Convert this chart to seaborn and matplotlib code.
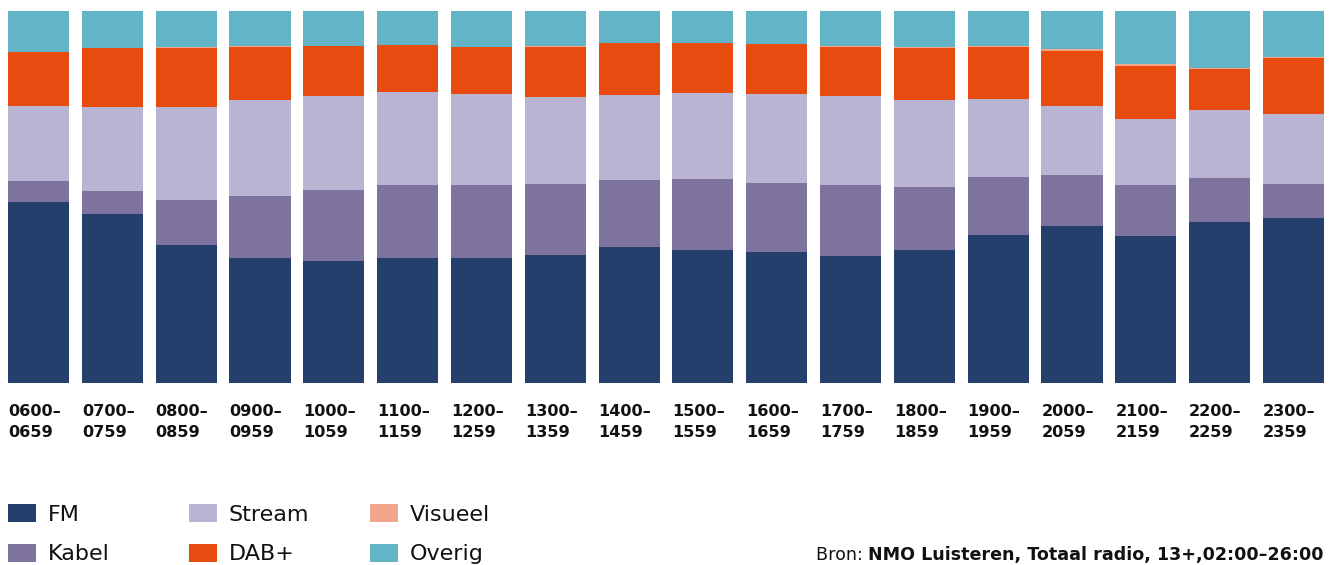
import numpy as np
import pandas as pd
import seaborn as sns
import matplotlib.pyplot as plt
from matplotlib.patches import Patch

# tijdvakken (x-as)
slots = ["0600–\n0659", "0700–\n0759", "0800–\n0859", "0900–\n0959", "1000–\n1059",
         "1100–\n1159", "1200–\n1259", "1300–\n1359", "1400–\n1459", "1500–\n1559",
         "1600–\n1659", "1700–\n1759", "1800–\n1859", "1900–\n1959", "2000–\n2059",
         "2100–\n2159", "2200–\n2259", "2300–\n2359"]

# aandeel per platform (%)
fm      = [48.7, 45.4, 37.1, 33.6, 32.8, 33.6, 33.6, 34.4, 36.6, 35.8, 35.2, 34.1, 35.8, 39.8, 42.2, 39.5, 43.3, 44.4]
kabel   = [5.6, 6.2, 12.1, 16.7, 19.1, 19.6, 19.6, 19.1, 18.0, 19.1, 18.5, 19.1, 16.9, 15.6, 13.7, 13.7, 11.8, 9.1]
stream  = [20.2, 22.6, 25.0, 25.8, 25.3, 25.0, 24.5, 23.4, 22.8, 23.1, 23.9, 23.9, 23.4, 21.0, 18.5, 17.7, 18.3, 18.8]
dab     = [14.6, 15.9, 15.9, 14.2, 13.5, 12.7, 12.6, 13.4, 14.0, 13.4, 13.4, 13.2, 14.0, 14.0, 14.8, 14.2, 11.1, 15.1]
visueel = [0.1, 0.1, 0.3, 0.4, 0.1, 0.1, 0.1, 0.4, 0.1, 0.1, 0.1, 0.4, 0.3, 0.4, 0.5, 0.6, 0.3, 0.3]
overig  = [10.9, 9.9, 9.7, 9.3, 9.3, 9.1, 9.7, 9.3, 8.6, 8.6, 8.9, 9.3, 9.7, 9.3, 10.2, 14.2, 15.2, 12.4]

names = ["FM", "Kabel", "Stream", "DAB+", "Visueel", "Overig"]
colors = ["#243F6B", "#7D739E", "#B9B4D1", "#E84B10", "#F4A68A", "#63B4C7"]

df = pd.DataFrame({"slot": slots, "FM": fm, "Kabel": kabel, "Stream": stream,
                   "DAB+": dab, "Visueel": visueel, "Overig": overig})
# 100% gestapeld
vals = df[names]
vals = vals.div(vals.sum(axis=1), axis=0) * 100
cum = vals.cumsum(axis=1)

sns.set_style("white")
plt.rcParams['font.family'] = ['DejaVu Sans']

W, H = 1333, 565
fig = plt.figure(figsize=(W / 100, H / 100), dpi=100)
ax = fig.add_axes([8 / W, (H - 383) / H, (1324 - 8) / W, 372 / H])

bw = 0.827
# van boven naar beneden tekenen, zodat elke laag de vorige afdekt
for name, col in reversed(list(zip(names, colors))):
    sns.barplot(x=df["slot"], y=cum[name], color=col, saturation=1, width=bw,
                linewidth=0, ax=ax, errorbar=None)

ax.set_xlim(-bw / 2, len(slots) - 1 + bw / 2)
ax.set_ylim(0, 100)
ax.set_axis_off()

for i, s in enumerate(slots):
    ax.annotate(s, xy=(i - bw / 2, 0), xycoords=("data", "axes fraction"),
                xytext=(0, -21), textcoords="offset pixels", ha="left", va="top",
                fontsize=11.6, fontweight="bold", color="#111111", linespacing=1.5)

# legenda in drie kolommen
handles = [Patch(facecolor=c, edgecolor="none", label=n) for n, c in zip(names, colors)]
for k, x0 in enumerate([8, 189, 370]):
    fig.legend(handles=handles[2 * k:2 * k + 2], loc="upper left",
               bbox_to_anchor=(x0 / W, (H - 504) / H), bbox_transform=fig.transFigure,
               frameon=False, borderpad=0, borderaxespad=0, fontsize=16,
               handlelength=1.26, handleheight=0.86, handletextpad=0.54,
               labelspacing=0.86, labelcolor="#111111")

# bronvermelding
t2 = fig.text(1324 / W, (H - 560) / H, "NMO Luisteren, Totaal radio, 13+,02:00–26:00",
              ha="right", va="baseline", fontsize=12.6, fontweight="bold", color="#111111")
fig.canvas.draw()
bb = t2.get_window_extent()
fig.text(bb.x0 / W, (H - 560) / H, "Bron: ", ha="right", va="baseline",
         fontsize=12.6, color="#111111")

fig.savefig("out.png", dpi=100)
